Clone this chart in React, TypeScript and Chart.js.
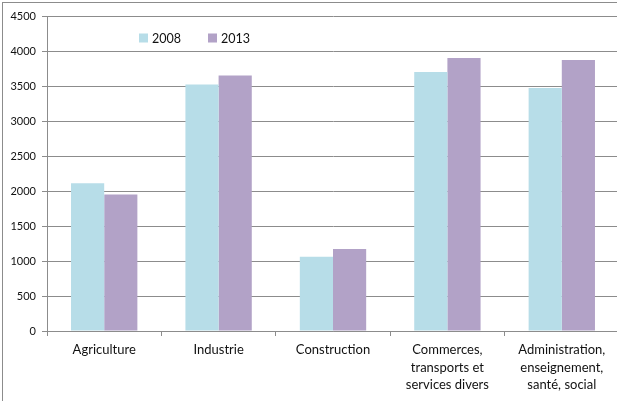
import React, { useEffect, useRef } from "react";
import { Chart, registerables } from "chart.js";

Chart.register(...registerables);

const categories: (string | string[])[] = [
  "Agriculture",
  "Industrie",
  "Construction",
  ["Commerces,", "transports et", "services divers"],
  ["Administration,", "enseignement,", "santé, social"],
];
const seriesLabels = ["2008", "2013"];
const values2008 = [2110, 3520, 1060, 3700, 3470];
const values2013 = [1950, 3650, 1170, 3900, 3870];
const yTicks = [0, 500, 1000, 1500, 2000, 2500, 3000, 3500, 4000, 4500];

const colors = ["#b7dde8", "#b2a2c7"];
const FONT = "Lato, 'Open Sans', sans-serif";

const legendPlugin = {
  id: "insideLegend",
  afterDraw(chart: any) {
    const ctx = chart.ctx;
    const area = chart.chartArea;
    ctx.save();
    ctx.font = `12.5px ${FONT}`;
    ctx.textBaseline = "middle";
    ctx.textAlign = "left";
    chart.data.datasets.forEach((ds: any, i: number) => {
      const x = area.left + 92 + i * 69;
      const y = 38;
      ctx.fillStyle = ds.backgroundColor;
      ctx.fillRect(x, y - 4.5, 9, 9);
      ctx.fillStyle = "#111";
      ctx.fillText(ds.label, x + 13, y + 0.5);
    });
    ctx.restore();
  },
};

export default function App() {
  const ref = useRef<HTMLCanvasElement | null>(null);
  useEffect(() => {
    if (!ref.current) return;
    const chart = new Chart(ref.current, {
      type: "bar",
      data: {
        labels: categories as any,
        datasets: [
          {
            label: seriesLabels[0],
            data: values2008,
            backgroundColor: colors[0],
            borderWidth: 0,
          },
          {
            label: seriesLabels[1],
            data: values2013,
            backgroundColor: colors[1],
            borderWidth: 0,
          },
        ],
      },
      options: {
        animation: false,
        responsive: false,
        devicePixelRatio: 1,
        layout: { padding: { left: 0, top: 16, right: 5, bottom: 0 } },
        datasets: { bar: { categoryPercentage: 0.58, barPercentage: 1 } } as any,
        plugins: {
          legend: { display: false },
          tooltip: { enabled: false },
        },
        scales: {
          x: {
            grid: {
              offset: true,
              drawOnChartArea: false,
              drawTicks: true,
              tickLength: 5,
              color: "#8c8c8c",
            },
            border: { color: "#8c8c8c", width: 1 },
            ticks: {
              color: "#111",
              font: { family: FONT, size: 13, lineHeight: 1.36 },
              padding: 5,
              maxRotation: 0,
              autoSkip: false,
            },
            afterFit(scale: any) {
              scale.height = 70;
            },
          },
          y: {
            min: 0,
            max: 4500,
            afterBuildTicks(scale: any) {
              scale.ticks = yTicks.map((v) => ({ value: v }));
            },
            grid: {
              color: "#8c8c8c",
              tickLength: 5,
              drawTicks: true,
            },
            border: { color: "#8c8c8c", width: 1 },
            ticks: {
              color: "#111",
              font: { family: FONT, size: 11 },
              padding: 6,
              callback: (v: any) => String(v),
            },
            afterFit(scale: any) {
              scale.width = 47;
            },
          },
        },
      },
      plugins: [legendPlugin],
    });
    return () => chart.destroy();
  }, []);

  return (
    <div
      style={{
        position: "fixed",
        left: 0,
        top: 0,
        width: 617,
        height: 401,
        overflow: "hidden",
        background: "#fff",
      }}
    >
      <div
        style={{
          position: "absolute",
          left: 2,
          top: 2,
          width: 660,
          height: 440,
          border: "1px solid #8c8c8c",
          boxSizing: "border-box",
        }}
      />
      <canvas
        ref={ref}
        width={624}
        height={401}
        style={{ position: "absolute", left: 0, top: 0, width: 624, height: 401 }}
      />
    </div>
  );
}
